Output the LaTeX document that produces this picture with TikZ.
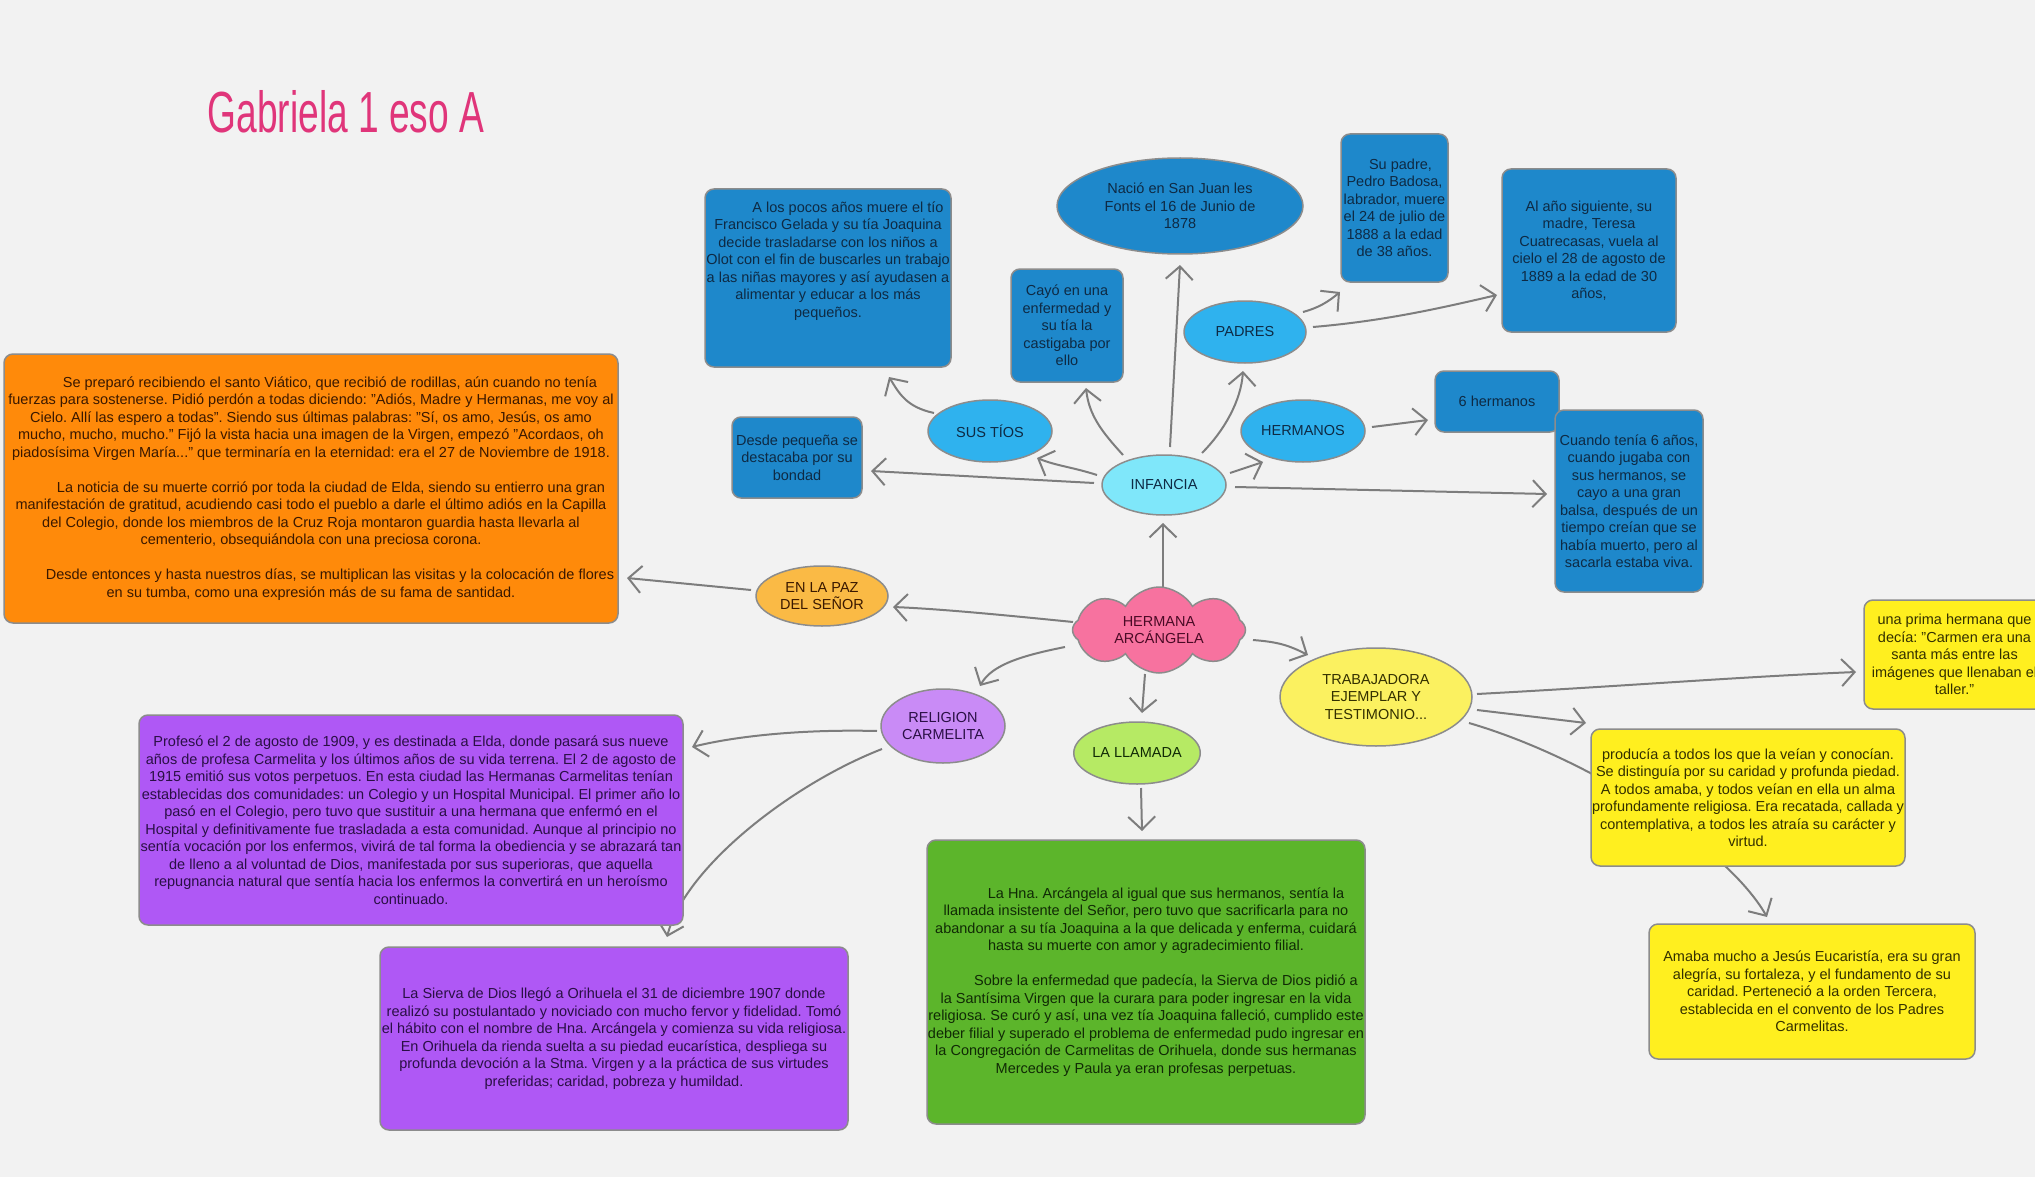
\documentclass[tikz,border=0pt]{standalone}
\usepackage{fontspec}
\setmainfont{Liberation Sans}
\usetikzlibrary{shapes.geometric,shapes.symbols,arrows.meta,backgrounds,calc}
\definecolor{bgcolor}{HTML}{F2F2F2}
\definecolor{boxblue}{HTML}{1E88CB}
\definecolor{ellblue}{HTML}{2FB2EE}
\definecolor{infcol}{HTML}{7FE7FA}
\definecolor{bluetext}{HTML}{0E2A44}
\definecolor{orangefill}{HTML}{FF8A0A}
\definecolor{orangetext}{HTML}{3A1800}
\definecolor{pazcol}{HTML}{FABA45}
\definecolor{cloudpink}{HTML}{F7729F}
\definecolor{cloudtext}{HTML}{4A0A25}
\definecolor{relcol}{HTML}{C98BF6}
\definecolor{llamcol}{HTML}{B6EA64}
\definecolor{trabcol}{HTML}{FBF160}
\definecolor{yellowfill}{HTML}{FFEF1F}
\definecolor{yellowtext}{HTML}{333000}
\definecolor{purplefill}{HTML}{AF58F5}
\definecolor{purpletext}{HTML}{2A0F45}
\definecolor{greenfill}{HTML}{5CB52B}
\definecolor{greentext}{HTML}{102A05}
\definecolor{titlepink}{HTML}{E0357A}
\definecolor{linegray}{HTML}{7D7D7D}
\definecolor{bordergray}{HTML}{8C8C8C}
\frenchspacing
\begin{document}
\begin{tikzpicture}[x=1pt,y=-1pt,
  every node/.style={font=\fontsize{14.5}{17.5}\selectfont, align=center, inner sep=0pt},
  box/.style={rectangle, rounded corners=9pt, draw=bordergray, line width=1.5pt},
  ell/.style={ellipse, draw=bordergray, line width=1.5pt},
  arr/.style={draw=linegray, line width=2pt, -{Straight Barb[length=13pt,width=27pt]}},
]
\useasboundingbox (0,0) rectangle (2035,1177);

% title
\node[text=titlepink, font=\fontsize{58}{60}\selectfont] (title) at (346,112) {\scalebox{0.64}[1]{Gabriela 1 eso A}};

% central cloud
\node[cloud, cloud puffs=8, cloud puff arc=120, cloud ignores aspect, draw=bordergray, line width=1.5pt, fill=cloudpink, text=cloudtext, minimum width=173pt, minimum height=86pt] (cloud) at (1159,630) {HERMANA\\ARCÁNGELA};

% ellipses
\node[ell, fill=infcol, text=bluetext, minimum width=124pt, minimum height=60pt] (infancia) at (1164,485) {INFANCIA};
\node[ell, fill=ellblue, text=bluetext, minimum width=124pt, minimum height=62pt] (sustios) at (990,431) {SUS TÍOS};
\node[ell, fill=ellblue, text=bluetext, minimum width=122pt, minimum height=62pt] (padres) at (1245,332) {PADRES};
\node[ell, fill=ellblue, text=bluetext, minimum width=124pt, minimum height=62pt] (hermanos) at (1303,431) {HERMANOS};
\node[ell, fill=boxblue, text=bluetext, minimum width=246pt, minimum height=96pt] (nacio) at (1180,206) {Nació en San Juan les\\Fonts el 16 de Junio de\\1878};
\node[ell, fill=pazcol, text=orangetext, minimum width=132pt, minimum height=60pt] (paz) at (822,596) {EN LA PAZ\\DEL SEÑOR};
\node[ell, fill=relcol, text=purpletext, minimum width=124pt, minimum height=74pt] (religion) at (943,726) {RELIGION\\CARMELITA};
\node[ell, fill=llamcol, text=greentext, minimum width=124pt, minimum height=62pt] (llamada) at (1137,753) {LA LLAMADA};
\node[ell, fill=trabcol, text=yellowtext, minimum width=192pt, minimum height=98pt] (trab) at (1376,697) {TRABAJADORA\\EJEMPLAR Y\\TESTIMONIO...};

% blue boxes
\node[box, fill=boxblue, minimum width=246pt, minimum height=178pt] (tios) at (828,278) {};
\node[text=bluetext] (tiostxt) at (828,261) {\hspace*{40pt}A los pocos años muere el tío\\Francisco Gelada y su tía Joaquina\\decide trasladarse con los niños a\\Olot con el fin de buscarles un trabajo\\a las niñas mayores y así ayudasen a\\alimentar y educar a los más\\pequeños.};
\node[box, fill=boxblue, text=bluetext, minimum width=112pt, minimum height=113pt] (cayo) at (1067,325.5) {Cayó en una\\enfermedad y\\su tía la\\castigaba por\\ello};
\node[box, fill=boxblue, text=bluetext, minimum width=107pt, minimum height=148pt] (supadre) at (1394.5,208) {\hspace*{12pt}Su padre,\\Pedro Badosa,\\labrador, muere\\el 24 de julio de\\1888 a la edad\\de 38 años.};
\node[box, fill=boxblue, text=bluetext, minimum width=174pt, minimum height=163pt] (alano) at (1589,250.5) {Al año siguiente, su\\madre, Teresa\\Cuatrecasas, vuela al\\cielo el 28 de agosto de\\1889 a la edad de 30\\años,};
\node[box, fill=boxblue, text=bluetext, minimum width=130pt, minimum height=81pt] (desde) at (797,457.5) {Desde pequeña se\\destacaba por su\\bondad};
\node[box, fill=boxblue, text=bluetext, minimum width=124pt, minimum height=61pt] (seis) at (1497,401.5) {6 hermanos};
\node[box, fill=boxblue, text=bluetext, minimum width=148pt, minimum height=182pt] (cuando) at (1629,501) {Cuando tenía 6 años,\\cuando jugaba con\\sus hermanos, se\\cayo a una gran\\balsa, después de un\\tiempo creían que se\\había muerto, pero al\\sacarla estaba viva.};

% orange box
\node[box, fill=orangefill, text=orangetext, minimum width=614pt, minimum height=269pt] (orng) at (311,488.5) {\hspace*{38pt}Se preparó recibiendo el santo Viático, que recibió de rodillas, aún cuando no tenía\\fuerzas para sostenerse. Pidió perdón a todas diciendo: "Adiós, Madre y Hermanas, me voy al\\Cielo. Allí las espero a todas". Siendo sus últimas palabras: "Sí, os amo, Jesús, os amo\\mucho, mucho, mucho." Fijó la vista hacia una imagen de la Virgen, empezó "Acordaos, oh\\piadosísima Virgen María..." que terminaría en la eternidad: era el 27 de Noviembre de 1918.\\[17.5pt]\hspace*{40pt}La noticia de su muerte corrió por toda la ciudad de Elda, siendo su entierro una gran\\manifestación de gratitud, acudiendo casi todo el pueblo a darle el último adiós en la Capilla\\del Colegio, donde los miembros de la Cruz Roja montaron guardia hasta llevarla al\\cementerio, obsequiándola con una preciosa corona.\\[17.5pt]\hspace*{38pt}Desde entonces y hasta nuestros días, se multiplican las visitas y la colocación de flores\\en su tumba, como una expresión más de su fama de santidad.};

% purple boxes
\node[box, fill=purplefill, text=purpletext, minimum width=544pt, minimum height=210pt] (purp1) at (411,820) {Profesó el 2 de agosto de 1909, y es destinada a Elda, donde pasará sus nueve\\años de profesa Carmelita y los últimos años de su vida terrena. El 2 de agosto de\\1915 emitió sus votos perpetuos. En esta ciudad las Hermanas Carmelitas tenían\\establecidas dos comunidades: un Colegio y un Hospital Municipal. El primer año lo\\pasó en el Colegio, pero tuvo que sustituir a una hermana que enfermó en el\\Hospital y definitivamente fue trasladada a esta comunidad. Aunque al principio no\\sentía vocación por los enfermos, vivirá de tal forma la obediencia y se abrazará tan\\de lleno a al voluntad de Dios, manifestada por sus superioras, que aquella\\repugnancia natural que sentía hacia los enfermos la convertirá en un heroísmo\\continuado.};
\node[box, fill=purplefill, text=purpletext, minimum width=468pt, minimum height=183pt] (purp2) at (614,1038.5) {La Sierva de Dios llegó a Orihuela el 31 de diciembre 1907 donde\\realizó su postulantado y noviciado con mucho fervor y fidelidad. Tomó\\el hábito con el nombre de Hna. Arcángela y comienza su vida religiosa.\\En Orihuela da rienda suelta a su piedad eucarística, despliega su\\profunda devoción a la Stma. Virgen y a la práctica de sus virtudes\\preferidas; caridad, pobreza y humildad.};

% green box
\node[box, fill=greenfill, text=greentext, minimum width=438pt, minimum height=284pt] (green) at (1146,982) {\hspace*{40pt}La Hna. Arcángela al igual que sus hermanos, sentía la\\llamada insistente del Señor, pero tuvo que sacrificarla para no\\abandonar a su tía Joaquina a la que delicada y enferma, cuidará\\hasta su muerte con amor y agradecimiento filial.\\[17.5pt]\hspace*{40pt}Sobre la enfermedad que padecía, la Sierva de Dios pidió a\\la Santísima Virgen que la curara para poder ingresar en la vida\\religiosa. Se curó y así, una vez tía Joaquina falleció, cumplido este\\deber filial y superado el problema de enfermedad pudo ingresar en\\la Congregación de Carmelitas de Orihuela, donde sus hermanas\\Mercedes y Paula ya eran profesas perpetuas.};

% yellow boxes
\node[box, fill=yellowfill, text=yellowtext, minimum width=181pt, minimum height=109pt] (prima) at (1954.5,654.5) {una prima hermana que\\decía: "Carmen era una\\santa más entre las\\imágenes que llenaban el\\taller."};
\node[box, fill=yellowfill, text=yellowtext, minimum width=314pt, minimum height=137pt] (producia) at (1748,797.5) {producía a todos los que la veían y conocían.\\Se distinguía por su caridad y profunda piedad.\\A todos amaba, y todos veían en ella un alma\\profundamente religiosa. Era recatada, callada y\\contemplativa, a todos les atraía su carácter y\\virtud.};
\node[box, fill=yellowfill, text=yellowtext, minimum width=326pt, minimum height=135pt] (amaba) at (1812,991.5) {Amaba mucho a Jesús Eucaristía, era su gran\\alegría, su fortaleza, y el fundamento de su\\caridad. Perteneció a la orden Tercera,\\establecida en el convento de los Padres\\Carmelitas.};

\begin{pgfonlayer}{background}
\fill[bgcolor] (0,0) rectangle (2035,1177);
% connectors
\draw[arr] ([shift={(4,-42)}]cloud.center) -- ([shift={(-1,38)}]infancia.center);
\draw[arr] ([shift={(-67,-10)}]infancia.center) .. controls +(-25,-8) and +(20,8) .. ([shift={(47,27)}]sustios.center);
\draw[arr] ([shift={(-70,-2)}]infancia.center) -- ([shift={(74,13.5)}]desde.center);
\draw[arr] ([shift={(-41,-30)}]infancia.center) .. controls +(-20,-22) and +(3,28) .. ([shift={(19,62.5)}]cayo.center);
\draw[arr] ([shift={(6,-38)}]infancia.center) -- ([shift={(0,59)}]nacio.center);
\draw[arr] ([shift={(38,-32)}]infancia.center) .. controls +(22,-22) and +(-2,30) .. ([shift={(-2,39)}]padres.center);
\draw[arr] ([shift={(66,-12)}]infancia.center) -- ([shift={(-40,31)}]hermanos.center);
\draw[arr] ([shift={(71,2)}]infancia.center) -- ([shift={(-82,-7)}]cuando.center);
\draw[arr] ([shift={(-56,-18)}]sustios.center) .. controls +(-28,-6) and +(10,16) .. ([shift={(61,99)}]tios.center);
\draw[arr] ([shift={(58,-20)}]padres.center) .. controls +(15,-4) and +(-12,10) .. ([shift={(-54.5,84)}]supadre.center);
\draw[arr] ([shift={(68,-5)}]padres.center) .. controls +(70,-6) and +(-60,14) .. ([shift={(-92,44.5)}]alano.center);
\draw[arr] ([shift={(69,-4)}]hermanos.center) -- ([shift={(-69,18.5)}]seis.center);
\draw[arr] ([shift={(-86,-8)}]cloud.center) .. controls +(-60,-6) and +(50,2) .. ([shift={(71,11)}]paz.center);
\draw[arr] ([shift={(-71,-6)}]paz.center) -- ([shift={(316,89.5)}]orng.center);
\draw[arr] ([shift={(-94,17)}]cloud.center) .. controls +(-40,8) and +(12,-22) .. ([shift={(37,-40)}]religion.center);
\draw[arr] ([shift={(-66,5)}]religion.center) .. controls +(-80,-2) and +(40,-10) .. ([shift={(281,-73)}]purp1.center);
\draw[arr] ([shift={(-61,23)}]religion.center) .. controls +(-90,35) and +(18,-70) .. ([shift={(53,-101.5)}]purp2.center);
\draw[arr] ([shift={(-14,44)}]cloud.center) -- ([shift={(5,-40)}]llamada.center);
\draw[arr] ([shift={(4,35)}]llamada.center) -- ([shift={(-4,-151)}]green.center);
\draw[arr] ([shift={(94,10)}]cloud.center) .. controls +(25,2) and +(-20,-10) .. ([shift={(-68,-42)}]trab.center);
\draw[arr] ([shift={(101,-3)}]trab.center) .. controls +(150,-8) and +(-120,5) .. ([shift={(-98.5,17.5)}]prima.center);
\draw[arr] ([shift={(101,13)}]trab.center) -- ([shift={(-162,-74.5)}]producia.center);
\draw[arr] ([shift={(93,26)}]trab.center) .. controls +(120,35) and +(-40,-70) .. ([shift={(-45,-74.5)}]amaba.center);
\end{pgfonlayer}
\end{tikzpicture}
\end{document}
